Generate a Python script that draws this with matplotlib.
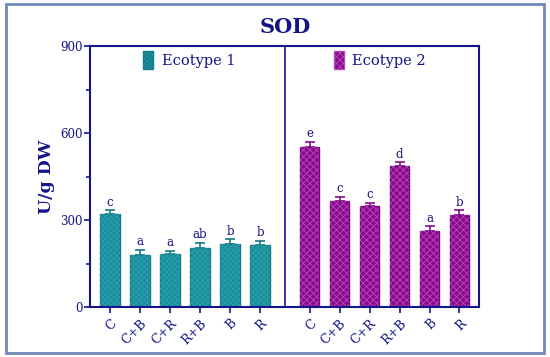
import numpy as np
import matplotlib
matplotlib.use("Agg")
import matplotlib.pyplot as plt
from matplotlib.patches import Rectangle, Patch

# data
treatments = ["C", "C+B", "C+R", "R+B", "B", "R"]
eco1_vals = [320, 180, 184, 204, 216, 214]
eco1_err = [13, 17, 10, 16, 17, 15]
eco1_letters = ["c", "a", "a", "ab", "b", "b"]
eco2_vals = [553, 367, 349, 486, 261, 318]
eco2_err = [17, 12, 10, 13, 17, 15]
eco2_letters = ["e", "c", "c", "d", "a", "b"]

NAVY = "#14148a"
TEAL = "#1b8e9b"
TEAL_EDGE = "#147c88"
MAG = "#8a0a8c"
MAG_HATCH = "#b548b8"

plt.rcParams["font.family"] = ["DejaVu Serif"]
plt.rcParams["hatch.linewidth"] = 0.6

fig = plt.figure(figsize=(5.5, 3.57), dpi=100)
ax = fig.add_axes([0.1636, 0.140, 0.7073, 0.731])

x1 = np.arange(len(treatments))
x2 = x1 + 6.65
width = 0.66

ax.bar(x1, eco1_vals, width, color=TEAL, edgecolor=TEAL_EDGE, linewidth=1.0, zorder=2)
ax.bar(x1, eco1_vals, width, color="none", edgecolor="#2aa0ad", hatch="xxxxxx", linewidth=0, zorder=2)
ax.errorbar(x1, eco1_vals, yerr=[np.zeros(len(eco1_err)), eco1_err], fmt="none",
            ecolor=TEAL_EDGE, elinewidth=1.2, capsize=3.5, capthick=1.2, zorder=1)

ax.bar(x2, eco2_vals, width, color=MAG, edgecolor="#7a0580", linewidth=1.0, zorder=2)
ax.bar(x2, eco2_vals, width, color="none", edgecolor=MAG_HATCH, hatch="xxxxx", linewidth=0, zorder=2)
ax.errorbar(x2, eco2_vals, yerr=[np.zeros(len(eco2_err)), eco2_err], fmt="none",
            ecolor=MAG, elinewidth=1.2, capsize=3.5, capthick=1.2, zorder=1)

for xs, vals, errs, lets in [(x1, eco1_vals, eco1_err, eco1_letters),
                              (x2, eco2_vals, eco2_err, eco2_letters)]:
    for xi, v, e, l in zip(xs, vals, errs, lets):
        ax.text(xi, v + e + 6, l, ha="center", va="bottom", fontsize=8.5, color=NAVY)

ax.axvline(5.82, color=NAVY, lw=1.2)

ax.set_xlim(-0.67, 12.3)
ax.set_ylim(0, 900)
ax.set_yticks([0, 300, 600, 900])
ax.set_yticks([150, 450, 750], minor=True)
ax.set_xticks(np.concatenate([x1, x2]))
ax.set_xticklabels(treatments + treatments, rotation=45, ha="right",
                   rotation_mode="anchor", fontsize=9, color=NAVY)
ax.tick_params(axis="y", labelsize=8.5, labelcolor=NAVY, color=NAVY, width=1.2, length=4, pad=1)
ax.tick_params(axis="y", which="minor", color=NAVY, width=1.2, length=3)
ax.tick_params(axis="x", color=NAVY, width=1.2, length=4, pad=3)
for s in ax.spines.values():
    s.set_color(NAVY)
    s.set_linewidth(1.5)

ax.set_ylabel("U/g DW", fontsize=12.5, fontweight="bold", color=NAVY, labelpad=4)
fig.text(0.518, 0.925, "SOD", ha="center", va="center", fontsize=15,
         fontweight="bold", color=NAVY)

h1 = Patch(facecolor=TEAL, edgecolor=TEAL_EDGE, hatch="xxxxxx")
h2 = Patch(facecolor=MAG, edgecolor=MAG_HATCH, hatch="xxxxx")
leg_kw = dict(loc="upper center", frameon=False, fontsize=10.5, handlelength=0.7,
              handleheight=1.5, handletextpad=0.6, labelcolor=NAVY, borderaxespad=0.2)
leg1 = ax.legend([h1], ["Ecotype 1"], bbox_to_anchor=(0.255, 1.015), **leg_kw)
ax.add_artist(leg1)
ax.legend([h2], ["Ecotype 2"], bbox_to_anchor=(0.745, 1.015), **leg_kw)

fig.patches.append(Rectangle((6 / 550, 4 / 357), 538 / 550, 349 / 357,
                             transform=fig.transFigure, fill=False,
                             edgecolor="#7189b6", linewidth=2.0))

fig.savefig("out.png", dpi=100)
